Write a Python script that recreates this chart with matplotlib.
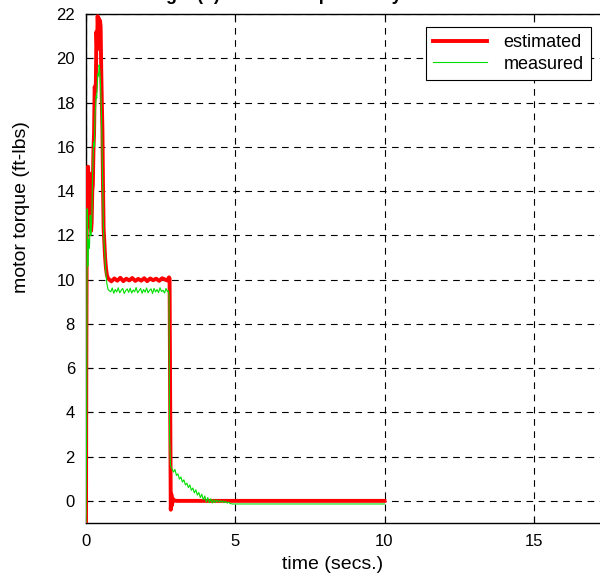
import matplotlib
matplotlib.use("Agg")
import matplotlib.pyplot as plt

plt.rcParams['font.family'] = ['Liberation Sans', 'DejaVu Sans']

# estimated motor torque (ft-lbs) vs time (secs.)
t_est = [0.0, 0.01, 0.03, 0.05, 0.07, 0.09, 0.11, 0.13, 0.15, 0.17, 0.19, 0.21,
         0.23, 0.25, 0.27, 0.29, 0.31, 0.33, 0.35, 0.37, 0.39, 0.41, 0.43, 0.45,
         0.47, 0.49, 0.51, 0.53, 0.55, 0.57, 0.59, 0.61, 0.64, 0.67, 0.70, 0.74,
         0.78, 0.85, 0.95, 1.05, 1.15, 1.25, 1.35, 1.45, 1.55, 1.65, 1.75, 1.85,
         1.95, 2.05, 2.15, 2.25, 2.35, 2.45, 2.55, 2.65, 2.72, 2.78, 2.80, 2.82,
         2.84, 2.86, 2.88, 2.91, 2.95, 3.05, 4.0, 6.0, 8.0, 10.0]
y_est = [-1.0, 6.0, 15.0, 14.0, 15.1, 13.4, 14.8, 13.2, 12.4, 12.2, 12.6, 14.0,
         14.3, 15.9, 16.6, 18.7, 18.5, 18.9, 21.2, 20.4, 21.9, 21.3, 21.8, 20.9,
         21.7, 21.4, 19.5, 18.0, 16.8, 14.2, 12.3, 11.8, 11.0, 10.5, 10.2, 10.05,
         10.0, 9.92, 10.05, 9.95, 10.08, 9.93, 10.04, 9.96, 10.07, 9.94, 10.03, 9.95,
         10.06, 9.93, 10.05, 9.97, 10.04, 9.94, 10.06, 10.0, 9.96, 10.1, 10.05, 4.5,
         -0.4, 0.3, -0.2, 0.1, 0.02, 0.0, 0.0, 0.0, 0.0, 0.0]

# measured motor torque (ft-lbs) vs time (secs.)
t_meas = [0.0, 0.02, 0.04, 0.06, 0.08, 0.10, 0.12, 0.14, 0.16, 0.18, 0.20, 0.22,
          0.24, 0.26, 0.28, 0.30, 0.32, 0.34, 0.36, 0.38, 0.40, 0.42, 0.44, 0.46,
          0.48, 0.50, 0.52, 0.54, 0.56, 0.58, 0.60, 0.63, 0.66, 0.70, 0.74, 0.78,
          0.83, 0.88, 0.93, 0.98, 1.03, 1.08, 1.13, 1.18, 1.23, 1.28, 1.33, 1.38,
          1.43, 1.48, 1.53, 1.58, 1.63, 1.68, 1.73, 1.78, 1.83, 1.88, 1.93, 1.98,
          2.03, 2.08, 2.13, 2.18, 2.23, 2.28, 2.33, 2.38, 2.43, 2.48, 2.53, 2.58,
          2.63, 2.68, 2.73, 2.76, 2.78, 2.80, 2.83, 2.88, 2.93, 2.98, 3.03, 3.08,
          3.13, 3.18, 3.23, 3.28, 3.33, 3.38, 3.43, 3.48, 3.53, 3.58, 3.63, 3.68,
          3.73, 3.78, 3.83, 3.88, 3.93, 3.98, 4.03, 4.08, 4.13, 4.18, 4.23, 4.28,
          4.33, 4.38, 4.43, 4.48, 4.53, 4.58, 4.63, 4.68, 4.73, 4.78, 4.83, 4.90,
          6.0, 8.0, 10.0]
y_meas = [-1.0, 3.0, 13.2, 10.6, 11.8, 11.4, 11.6, 12.9, 12.0, 12.4, 13.0, 14.8,
          15.6, 16.2, 16.0, 17.4, 17.8, 18.3, 18.2, 18.9, 19.3, 19.2, 19.7, 19.5,
          19.0, 18.3, 17.4, 15.8, 14.2, 12.6, 11.8, 11.2, 10.4, 9.8, 9.55, 9.5,
          9.45, 9.62, 9.38, 9.55, 9.44, 9.63, 9.4, 9.52, 9.6, 9.37, 9.5, 9.58,
          9.42, 9.61, 9.39, 9.53, 9.45, 9.64, 9.4, 9.5, 9.6, 9.38, 9.55, 9.43,
          9.62, 9.4, 9.52, 9.58, 9.37, 9.6, 9.44, 9.55, 9.41, 9.63, 9.46, 9.52,
          9.39, 9.6, 9.45, 9.5, 9.3, 2.9, 1.6, 1.45, 1.3, 1.42, 1.15, 1.22,
          0.98, 1.08, 0.85, 0.95, 0.72, 0.8, 0.6, 0.72, 0.48, 0.58, 0.36, 0.5,
          0.26, 0.38, 0.15, 0.3, 0.05, 0.22, -0.05, 0.15, -0.08, 0.1, -0.1, 0.06,
          -0.08, 0.04, -0.05, 0.02, -0.06, 0.0, -0.08, -0.02, -0.1, -0.06, -0.12, -0.14,
          -0.14, -0.14, -0.14]

x_ticks = [0, 5, 10, 15]
y_ticks = [0, 2, 4, 6, 8, 10, 12, 14, 16, 18, 20, 22]

fig = plt.figure(figsize=(6.0, 5.78), dpi=100)
W, H = 600.0, 578.0
ax = fig.add_axes([86 / W, 55 / H, 597 / W, 509 / H])

ax.plot(t_est, y_est, color='#ff0000', lw=2.8, label='estimated', zorder=3)
ax.plot(t_meas, y_meas, color='#00e000', lw=0.8, label='measured', zorder=4)

ax.set_xlim(0, 20)
ax.set_ylim(-1, 22)
ax.set_xticks(x_ticks)
ax.set_yticks(y_ticks)
ax.tick_params(direction='in', top=True, right=True, labelsize=12, length=5,
               width=0.8, pad=8)
ax.grid(True, color='black', linestyle=(0, (6, 5)), linewidth=0.8)
for s in ax.spines.values():
    s.set_linewidth(1.0)
    s.set_color('black')

ax.set_xlabel('time (secs.)', fontsize=14)
ax.xaxis.set_label_coords((333 - 86) / 597, (523 - 556) / 509)
ax.set_ylabel('motor torque (ft-lbs)', fontsize=14)
ax.yaxis.set_label_coords((30 - 86) / 597, (523 - 207) / 509)

leg = fig.legend(loc='upper right', bbox_to_anchor=(591 / W, 1 - 27 / H),
                 bbox_transform=fig.transFigure, borderaxespad=0, fancybox=False,
                 framealpha=1, edgecolor='black', fontsize=13, handlelength=3.0,
                 borderpad=0.4, labelspacing=0.25, handletextpad=0.9)
leg.get_frame().set_linewidth(0.8)

fig.text(0.575, 1 + 0.5 / H, 'Fig. 6(b)  Motor Torque for Dynamometer Test',
         ha='center', va='baseline', fontsize=13, fontweight='bold')

fig.savefig('out.png', dpi=100)
